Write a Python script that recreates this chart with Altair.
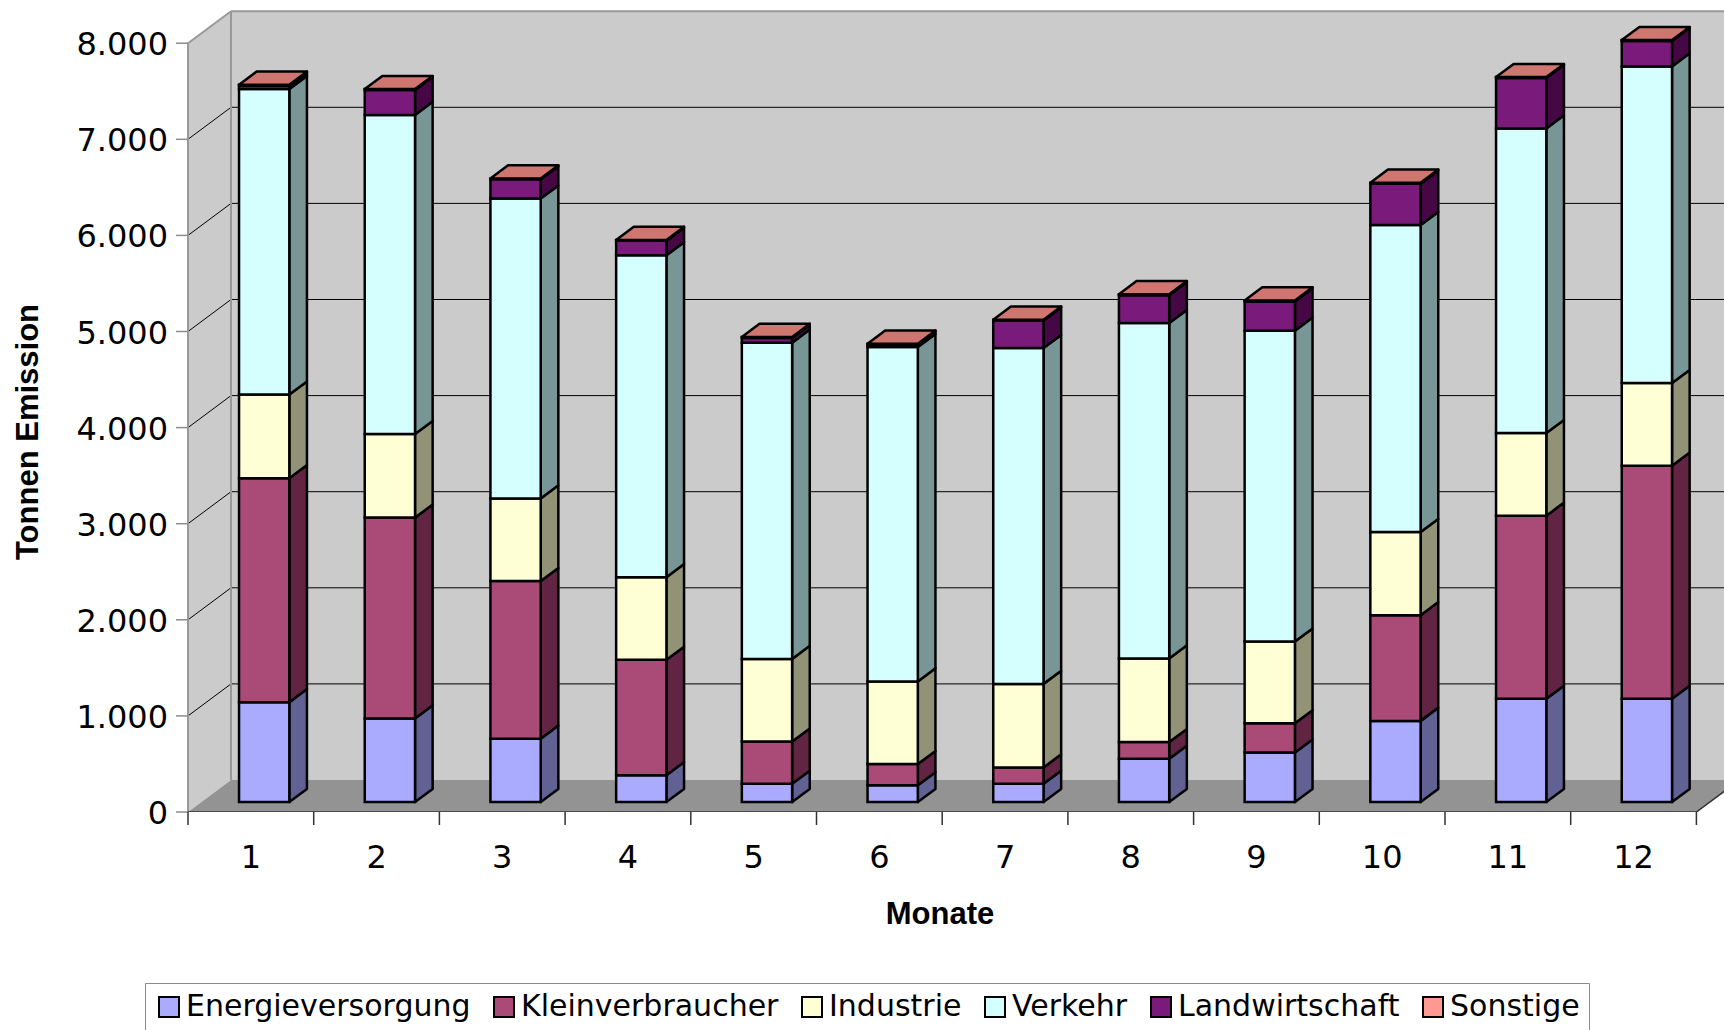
import altair as alt
import pandas as pd

# Monthly emissions (tonnes) per source sector
MONTHS = [1, 2, 3, 4, 5, 6, 7, 8, 9, 10, 11, 12]
SERIES = ["Energieversorgung", "Kleinverbraucher", "Industrie",
          "Verkehr", "Landwirtschaft", "Sonstige"]

energieversorgung = [1040, 870, 660, 280, 190, 175, 190, 450, 515, 845, 1075, 1075]
kleinverbraucher = [2330, 2090, 1640, 1200, 440, 220, 170, 175, 305, 1100, 1905, 2425]
industrie = [870, 870, 860, 860, 860, 860, 870, 870, 850, 865, 860, 860]
verkehr = [3180, 3320, 3120, 3350, 3290, 3480, 3495, 3490, 3235, 3195, 3170, 3295]
landwirtschaft = [35, 260, 200, 150, 50, 25, 285, 290, 305, 430, 525, 265]
sonstige = [10, 10, 10, 10, 10, 10, 10, 10, 10, 10, 10, 10]

VALUES = [energieversorgung, kleinverbraucher, industrie, verkehr, landwirtschaft, sonstige]
Y_TICKS = [0, 1000, 2000, 3000, 4000, 5000, 6000, 7000, 8000]
Y_TOP = 8000
X_TITLE = "Monate"
Y_TITLE = "Tonnen Emission"

FRONT_COLORS = ["#aaaaff", "#aa4a77", "#ffffd5", "#d5ffff", "#7a1a7a", "#ff9a92"]
SIDE_COLORS = ["#616194", "#612443", "#929277", "#799696", "#450845", "#a05050"]
TOP_COLOR = "#cf7671"

# ---- geometry of the oblique 3D frame -------------------------------------
PX_PER_MONTH = 125.7          # horizontal pixels per month slot
PX_PER_TONNE = 0.0961         # vertical pixels per tonne
WIDTH, HEIGHT = 1536, 801
X_MAX = WIDTH / PX_PER_MONTH
Y_MAX = HEIGHT / PX_PER_TONNE
WALL_DX = 43 / PX_PER_MONTH   # depth of the frame, in month units
WALL_DY = 32 / PX_PER_TONNE   # depth of the frame, in tonnes
BAR_W = 0.4
DEPTH_FRONT, DEPTH_BACK = 0.31, 0.72
Y_TICK_LEN = 12 / PX_PER_MONTH
X_TICK_LEN = 13 / PX_PER_TONNE

fx, fy = DEPTH_FRONT * WALL_DX, DEPTH_FRONT * WALL_DY
ddx = (DEPTH_BACK - DEPTH_FRONT) * WALL_DX
ddy = (DEPTH_BACK - DEPTH_FRONT) * WALL_DY

fronts, sides, tops = [], [], []
for i, m in enumerate(MONTHS):
    base = 0.0
    x0 = m - 0.5 - BAR_W / 2 + fx
    x1 = x0 + BAR_W
    for s, vals in zip(SERIES, VALUES):
        v = vals[i]
        y0, y1 = base + fy, base + v + fy
        fronts.append(dict(month=m, series=s, x0=x0, x1=x1, y0=y0, y1=y1))
        key = f"{m}-{s}"
        sides.append(dict(key=key, series=s, x=x1, lo=y0, hi=y1))
        sides.append(dict(key=key, series=s, x=x1 + ddx, lo=y0 + ddy, hi=y1 + ddy))
        base += v
    t = base + fy
    tops += [
        dict(month=m, x=x0, lo=t, hi=t),
        dict(month=m, x=x0 + ddx, lo=t, hi=t + ddy),
        dict(month=m, x=x1, lo=t, hi=t + ddy),
        dict(month=m, x=x1 + ddx, lo=t + ddy, hi=t + ddy),
    ]

front_df = pd.DataFrame(fronts)
side_df = pd.DataFrame(sides)
top_df = pd.DataFrame(tops)

n = len(MONTHS)
back_wall = pd.DataFrame([dict(x=WALL_DX, x2=X_MAX, y=WALL_DY, y2=Y_TOP + WALL_DY)])
left_wall = pd.DataFrame([dict(x=0, lo=0, hi=Y_TOP),
                          dict(x=WALL_DX, lo=WALL_DY, hi=Y_TOP + WALL_DY)])
floor = pd.DataFrame([dict(x=0, lo=0, hi=0),
                      dict(x=WALL_DX, lo=0, hi=WALL_DY),
                      dict(x=n, lo=0, hi=WALL_DY),
                      dict(x=n + WALL_DX, lo=WALL_DY, hi=WALL_DY)])
grid_back = pd.DataFrame([dict(x=WALL_DX, x2=X_MAX, y=v + WALL_DY) for v in Y_TICKS[1:-1]])
grid_side = pd.DataFrame([dict(x=0, x2=WALL_DX, y=v, y2=v + WALL_DY) for v in Y_TICKS[1:-1]])
frame_edges = pd.DataFrame([
    dict(x=0, y=0, x2=0, y2=Y_TOP),
    dict(x=0, y=Y_TOP, x2=WALL_DX, y2=Y_TOP + WALL_DY),
    dict(x=WALL_DX, y=WALL_DY, x2=WALL_DX, y2=Y_TOP + WALL_DY),
    dict(x=WALL_DX, y=Y_TOP + WALL_DY, x2=X_MAX, y2=Y_TOP + WALL_DY),
])
floor_edges = pd.DataFrame([
    dict(x=0, y=0, x2=n, y2=0),
    dict(x=n, y=0, x2=n + WALL_DX, y2=WALL_DY),
])

# axis furniture: ticks and tick labels
y_ticks = pd.DataFrame([dict(x=-Y_TICK_LEN, x2=0, y=v,
                             label=f"{v:,}".replace(",", ".")) for v in Y_TICKS])
x_ticks = pd.DataFrame([dict(x=k, y=-X_TICK_LEN, y2=0) for k in range(0, n + 1)])
x_labels = pd.DataFrame([dict(x=m - 0.5, y=0, label=str(m)) for m in MONTHS])

sx = alt.Scale(domain=[0, X_MAX], nice=False, zero=False)
sy = alt.Scale(domain=[0, Y_MAX], nice=False, zero=False)


def X(field):
    return alt.X(field, type="quantitative", scale=sx, axis=None)


def Y(field):
    return alt.Y(field, type="quantitative", scale=sy, axis=None)


wall_layer = alt.Chart(back_wall).mark_rect(fill="#cbcbcb").encode(
    x=X("x"), x2="x2", y=Y("y"), y2="y2")
left_layer = alt.Chart(left_wall).mark_area(fill="#cbcbcb").encode(
    x=X("x"), y=Y("lo"), y2="hi")
floor_layer = alt.Chart(floor).mark_area(fill="#939393", clip=True).encode(
    x=X("x"), y=Y("lo"), y2="hi")
grid_back_layer = alt.Chart(grid_back).mark_rule(color="black", strokeWidth=1).encode(
    x=X("x"), x2="x2", y=Y("y"))
grid_side_layer = alt.Chart(grid_side).mark_rule(color="black", strokeWidth=1).encode(
    x=X("x"), x2="x2", y=Y("y"), y2="y2")
frame_layer = alt.Chart(frame_edges).mark_rule(color="#999999", strokeWidth=2).encode(
    x=X("x"), x2="x2", y=Y("y"), y2="y2")
floor_edge_layer = alt.Chart(floor_edges).mark_rule(color="#333333", strokeWidth=1.5, clip=True).encode(
    x=X("x"), x2="x2", y=Y("y"), y2="y2")

y_tick_layer = alt.Chart(y_ticks).mark_rule(color="#8c8c8c", strokeWidth=1.5).encode(
    x=X("x"), x2="x2", y=Y("y"))
y_label_layer = alt.Chart(y_ticks).mark_text(
    align="right", baseline="alphabetic", dx=-20, dy=12,
    font="DejaVu Sans", fontSize=32, color="black"
).encode(x=alt.X("x2:Q", scale=sx, axis=None), y=Y("y"), text="label:N")
x_tick_layer = alt.Chart(x_ticks).mark_rule(color="#333333", strokeWidth=1.5).encode(
    x=X("x"), y=Y("y"), y2="y2")
x_label_layer = alt.Chart(x_labels).mark_text(
    align="center", baseline="alphabetic", dy=56,
    font="DejaVu Sans", fontSize=32, color="black"
).encode(x=X("x"), y=Y("y"), text="label:N")

title_style = dict(font="Liberation Sans", fontSize=31, fontWeight="bold", color="black",
                   align="center", baseline="middle")
x_title_layer = alt.Chart(pd.DataFrame([dict(t=X_TITLE)])).mark_text(**title_style).encode(
    x=alt.value(752), y=alt.value(904), text="t:N")
y_title_layer = alt.Chart(pd.DataFrame([dict(t=Y_TITLE)])).mark_text(angle=270, **title_style).encode(
    x=alt.value(-159), y=alt.value(421), text="t:N")

side_layer = alt.Chart(side_df).mark_area(
    stroke="black", strokeWidth=2.5, strokeJoin="round", opacity=1
).encode(
    x=X("x"), y=Y("lo"), y2="hi",
    color=alt.Color("series:N", scale=alt.Scale(domain=SERIES, range=SIDE_COLORS), legend=None),
    detail="key:N",
)

front_layer = alt.Chart(front_df).mark_rect(
    stroke="black", strokeWidth=2.5, opacity=1
).encode(
    x=X("x0"), x2="x1", y=Y("y0"), y2="y1",
    color=alt.Color("series:N", scale=alt.Scale(domain=SERIES, range=FRONT_COLORS),
                    sort=SERIES,
                    legend=alt.Legend(
                        orient="none", legendX=-43, legendY=972, direction="horizontal",
                        columns=6, title=None, symbolType="square", symbolSize=400,
                        symbolStrokeColor="black", symbolStrokeWidth=2, symbolOpacity=1,
                        labelFont="DejaVu Sans", labelFontSize=30, labelColor="black",
                        labelLimit=0, labelOffset=2, columnPadding=18, padding=9,
                        strokeColor="#8a8a8a", fillColor="white")),
)

top_layer = alt.Chart(top_df).mark_area(
    fill=TOP_COLOR, stroke="black", strokeWidth=2.5, strokeJoin="round"
).encode(x=X("x"), y=Y("lo"), y2="hi", detail="month:N")

chart = alt.layer(
    wall_layer, left_layer, floor_layer, grid_back_layer, grid_side_layer,
    frame_layer, floor_edge_layer, y_tick_layer, y_label_layer, x_tick_layer,
    x_label_layer, x_title_layer, y_title_layer, side_layer, front_layer, top_layer,
).resolve_scale(color="independent").properties(
    width=WIDTH, height=HEIGHT,
    padding={"left": 188, "top": 11, "right": 0, "bottom": 218},
    autosize=alt.AutoSizeParams(type="none"),
    background="white",
).configure_view(stroke=None)

chart.save("out.html", embed_options={"renderer": "svg", "actions": False})
